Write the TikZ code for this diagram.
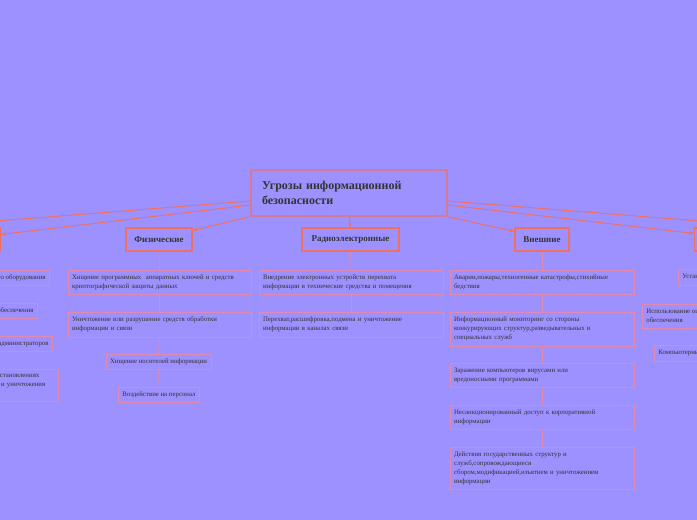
\documentclass[tikz,border=0pt]{standalone}
\usepackage{fontspec}
\setmainfont{Liberation Serif}
\usetikzlibrary{arrows.meta, calc}
\definecolor{bgviolet}{HTML}{9D90FF}
\definecolor{coral}{HTML}{F0705E}
\definecolor{leafpink}{HTML}{E08AB0}
\definecolor{inkgray}{HTML}{333333}

\begin{document}
\begin{tikzpicture}[x=1pt, y=-1pt,
    every node/.style={text=inkgray},
    root/.style={draw=coral, line width=1.4pt, rounded corners=1pt, align=left,
      font=\fontsize{12}{15}\selectfont\bfseries, text width=174pt, inner xsep=11pt, minimum height=46pt},
    cat/.style={draw=coral, line width=1.2pt, font=\fontsize{9}{11}\selectfont\bfseries, minimum height=23pt},
    leaf/.style={draw=leafpink, line width=0.8pt, align=left, font=\fontsize{6.8}{9}\selectfont, inner xsep=4pt},
    wide/.style={leaf, text width=176pt},
    branch/.style={draw=coral, line width=0.9pt, -{Stealth[length=5pt,width=3.5pt]}},
    link/.style={draw=leafpink, line width=0.7pt}
  ]
  \useasboundingbox (0,0) rectangle (697,520);
  \clip (0,0) rectangle (697,520);
  \fill[bgviolet] (0,0) rectangle (697,520);

  \node[root] (main) at (349,193) {Угрозы информационной\\безопасности};

  % categories
  \node[cat, anchor=east] (incat) at (1,239.5) {Внутренние};
  \node[cat, minimum width=66pt] (phys) at (159,239.5) {Физические};
  \node[cat, minimum width=97pt] (radio) at (350.5,239.5) {Радиоэлектронные};
  \node[cat, minimum width=54pt] (ext) at (542,239.5) {Внешние};
  \node[cat, anchor=west] (pmcat) at (694,239.5) {Программно-математические};
  \coordinate (farL) at (-156,233);
  \coordinate (farR) at (850,233);

  \draw[branch] ([yshift=-8pt]main.west) -- (farL);
  \draw[branch] ([yshift=-12pt]main.west) -- ([yshift=-7pt]incat.north east);
  \draw[branch] (main.south west) -- ([yshift=-3pt]phys.north east);
  \draw[branch] (main.south) -- (radio.north);
  \draw[branch] (main.south east) -- ([yshift=-4pt]ext.north west);
  \draw[branch] ([yshift=-12pt]main.east) -- ([yshift=-6pt]pmcat.north west);
  \draw[branch] ([yshift=-8pt]main.east) -- (farR);

  % left column
  \node[leaf, anchor=east, minimum height=15pt] (l1) at (50,277.5) {Отказы и сбои аппаратного оборудования};
  \node[leaf, anchor=east, minimum height=15pt] (l2) at (38,310.5) {Ошибки программного обеспечения};
  \node[leaf, anchor=east, minimum height=15pt] (l3) at (53,343.5) {Ошибки пользователей и администраторов};
  \node[leaf, anchor=east, text width=144pt, minimum height=32pt] (l4) at (59,385)
    {Нарушения, допущенные в постановлениях\\о порядке хранения, передачи и уничтожения\\информации};

  % physical
  \node[leaf, text width=175pt, minimum height=24pt] (f1) at (159.5,282)
    {Хищение программных \ аппаратных ключей и средств\\криптографической защиты данных};
  \node[leaf, text width=175pt, minimum height=25pt] (f2) at (159.5,324.5)
    {Уничтожение или разрушение средств обработки\\информации и связи};
  \node[leaf, minimum height=15pt] (f3) at (158.5,361.5) {Хищение носителей информации};
  \node[leaf, minimum height=15pt] (f4) at (159,394.5) {Воздействие на персонал};

  % radio
  \node[wide, minimum height=24pt] (r1) at (351,282)
    {Внедрение электронных устройств перехвата\\информации в технические средства и помещения};
  \node[wide, minimum height=25pt] (r2) at (351,324.5)
    {Перехват,расшифровка,подмена и уничтожение\\информации в каналах связи};

  % external
  \node[wide, minimum height=24pt] (e1) at (542,282)
    {Аварии,пожары,техногенные катастрофы,стихийные\\бедствия};
  \node[wide, minimum height=34pt] (e2) at (542,329)
    {Информационный мониторинг со стороны\\конкурирующих структур,разведывательных и\\специальных служб};
  \node[wide, minimum height=24pt] (e3) at (542,375)
    {Заражение компьютеров вирусами или\\вредоносными программами};
  \node[wide, minimum height=24pt] (e4) at (542,417)
    {Несанкционированный доступ к корпоративной\\информации};
  \node[wide, minimum height=42pt] (e5) at (542,468)
    {Действия государственных структур и\\служб,сопровождающиеся\\сбором,модификацией,изъятием и уничтожением\\информации};

  % right column
  \node[leaf, anchor=west, minimum height=16pt] (p1) at (678,277) {Установка шпионских программ};
  \node[leaf, anchor=west, minimum height=24pt] (p2) at (642,316) {Использование ошибок программного\\обеспечения};
  \node[leaf, anchor=west, minimum height=16pt] (p3) at (654,353) {Компьютерные вирусы};

  \foreach \a/\b in {phys/f1, f1/f2, f2/f3, f3/f4, radio/r1, r1/r2, ext/e1, e1/e2, e2/e3, e3/e4, e4/e5}
    \draw[link] (\a.south) -- (\b.north);
\end{tikzpicture}
\end{document}
